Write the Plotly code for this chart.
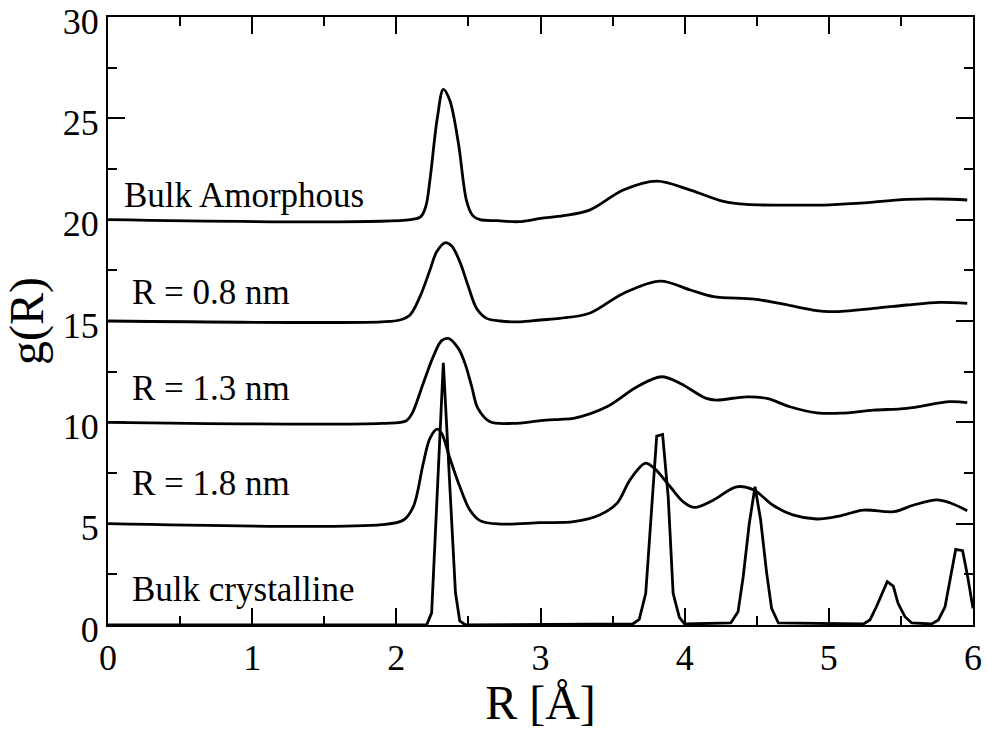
import plotly.graph_objects as go

# ---- data (R in Angstrom, g(R) with vertical offsets as plotted) ----
amorph_R = [0.0, 2.10, 2.17, 2.206, 2.233, 2.284, 2.326, 2.37, 2.43, 2.488, 2.53, 2.58, 2.70, 2.85,
            3.0, 3.16, 3.34, 3.574, 3.806, 4.04, 4.27, 4.43, 4.7, 4.96, 5.19, 5.54, 5.77, 5.96]
amorph_g = [20.0, 20.0, 20.15, 20.7, 21.95, 25.0, 26.43, 25.9, 23.8, 20.9, 20.2, 20.0, 19.95, 19.9,
            20.06, 20.2, 20.47, 21.46, 21.9, 21.46, 20.9, 20.75, 20.72, 20.72, 20.8, 21.0, 21.02, 20.97]

r08_R = [0.0, 1.9, 2.025, 2.095, 2.164, 2.233, 2.28, 2.338, 2.384, 2.44, 2.5, 2.557, 2.627, 2.72, 2.86,
         3.0, 3.135, 3.34, 3.574, 3.83, 4.04, 4.2, 4.48, 4.66, 4.89, 5.03, 5.31, 5.54, 5.77, 5.96]
r08_g = [15.0, 14.96, 15.05, 15.3, 16.2, 17.51, 18.42, 18.86, 18.7, 17.93, 16.69, 15.62, 15.13, 15.0, 14.96,
         15.05, 15.13, 15.38, 16.36, 16.97, 16.53, 16.2, 16.08, 15.87, 15.54, 15.46, 15.62, 15.79, 15.92, 15.87]

r13_R = [0.0, 1.9, 2.07, 2.11, 2.187, 2.256, 2.314, 2.36, 2.43, 2.476, 2.523, 2.565, 2.65, 2.81,
         3.0, 3.135, 3.23, 3.46, 3.67, 3.84, 3.97, 4.15, 4.22, 4.43, 4.57, 4.73, 4.915, 5.08, 5.31, 5.54, 5.84, 5.96]
r13_g = [10.0, 9.95, 10.08, 10.45, 11.93, 13.24, 14.03, 14.14, 13.65, 12.91, 11.76, 10.7, 10.03, 9.95,
         10.08, 10.15, 10.2, 10.77, 11.76, 12.25, 11.92, 11.18, 11.1, 11.26, 11.18, 10.77, 10.47, 10.45, 10.6, 10.69, 11.02, 10.97]

r18_R = [0.0, 1.9, 2.05, 2.118, 2.187, 2.233, 2.284, 2.314, 2.372, 2.44, 2.51, 2.58, 2.72, 3.0, 3.23, 3.41,
         3.53, 3.62, 3.725, 3.79, 3.9, 3.99, 4.07, 4.2, 4.36, 4.48, 4.61, 4.75, 4.915, 5.08, 5.24, 5.45,
         5.59, 5.75, 5.84, 5.96]
r18_g = [5.0, 4.95, 5.18, 5.84, 7.98, 9.21, 9.66, 9.46, 8.22, 6.83, 5.67, 5.15, 4.98, 5.05, 5.1, 5.43,
         6.0, 7.15, 7.98, 7.73, 6.82, 6.08, 5.8, 6.17, 6.82, 6.66, 5.92, 5.43, 5.23, 5.39, 5.67, 5.59,
         5.92, 6.17, 6.03, 5.64]

cryst_R = [0.0, 2.21, 2.245, 2.326, 2.41, 2.44, 2.48, 3.64, 3.685, 3.73, 3.806, 3.847, 3.886, 3.92, 3.963, 4.0,
           4.32, 4.37, 4.406, 4.448, 4.488, 4.527, 4.569, 4.603, 4.65, 5.24, 5.285, 5.33, 5.405, 5.447, 5.48,
           5.528, 5.575, 5.713, 5.76, 5.806, 5.88, 5.928, 5.963, 6.0]
cryst_g = [0.0, 0.0, 0.6, 12.94, 1.6, 0.2, 0.0, 0.05, 0.28, 1.56, 9.32, 9.4, 6.3, 1.56, 0.38, 0.05,
           0.1, 0.65, 2.38, 5.0, 6.82, 5.18, 2.55, 0.82, 0.1, 0.05, 0.25, 0.9, 2.14, 1.92, 1.07,
           0.41, 0.1, 0.05, 0.25, 0.9, 3.73, 3.67, 2.38, 0.82]

labels = ["Bulk Amorphous", "R = 0.8 nm", "R = 1.3 nm", "R = 1.8 nm", "Bulk crystalline"]
label_x = [0.097, 0.153, 0.153, 0.153, 0.153]
label_y = [21.2, 16.43, 11.69, 6.96, 1.73]

x_ticks = [0, 1, 2, 3, 4, 5, 6]
y_ticks = [0, 5, 10, 15, 20, 25, 30]

FONT = "Liberation Serif, Times New Roman, serif"

fig = go.Figure()
for R, g, shape in [(amorph_R, amorph_g, "spline"), (r08_R, r08_g, "spline"),
                    (r13_R, r13_g, "spline"), (r18_R, r18_g, "spline"),
                    (cryst_R, cryst_g, "linear")]:
    ln = dict(color="black", width=2.8, shape=shape)
    if shape == "spline":
        ln["smoothing"] = 0.95
    fig.add_trace(go.Scatter(x=R, y=g, mode="lines", line=ln,
                             showlegend=False, hoverinfo="skip", cliponaxis=True))

for t, x, y in zip(labels, label_x, label_y):
    fig.add_annotation(x=x, y=y, xref="x", yref="y", text=t, showarrow=False,
                       xanchor="left", yanchor="middle",
                       font=dict(family=FONT, size=35, color="black"))

axis_common = dict(showgrid=False, zeroline=False, showline=True, linecolor="black", linewidth=2,
                   mirror="allticks", ticks="inside", ticklen=17, tickwidth=1.6, tickcolor="black",
                   ticklabeloverflow="allow",
                   tickfont=dict(family=FONT, size=36, color="black"))

fig.update_xaxes(range=[0, 6], tickvals=x_ticks, ticktext=[str(v) for v in x_ticks],
                 minor=dict(dtick=0.5, tick0=0, ticks="inside", ticklen=9, tickwidth=1.6, tickcolor="black"),
                 title=dict(text="R [Å]", font=dict(family=FONT, size=48, color="black"), standoff=0),
                 **axis_common)
fig.update_yaxes(range=[0, 30], tickvals=y_ticks, ticktext=[str(v) for v in y_ticks],
                 minor=dict(dtick=2.5, tick0=0, ticks="inside", ticklen=9, tickwidth=1.6, tickcolor="black"),
                 title=dict(text="g(R)", font=dict(family=FONT, size=48, color="black"), standoff=18),
                 ticklabelshift=4,
                 **axis_common)

fig.update_layout(width=987, height=729, margin=dict(l=108, r=14, t=17, b=104, autoexpand=False),
                  plot_bgcolor="white", paper_bgcolor="white",
                  font=dict(family=FONT, color="black"))

fig.write_html("out.html", config={"displayModeBar": False},
               post_script="document.body.style.margin='0';document.body.style.padding='0';")
